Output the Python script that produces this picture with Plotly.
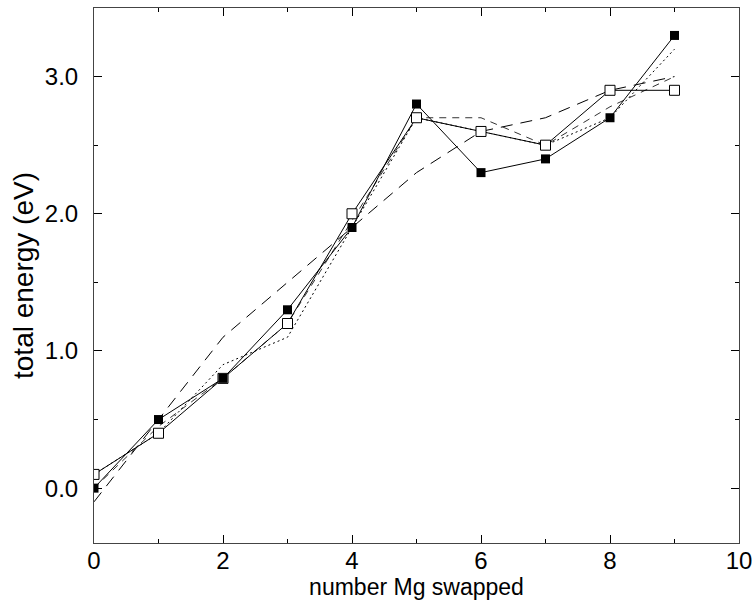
import plotly.graph_objects as go

x = [0, 1, 2, 3, 4, 5, 6, 7, 8, 9]
filled_sq = [0.0, 0.5, 0.8, 1.3, 1.9, 2.8, 2.3, 2.4, 2.7, 3.3]
open_sq = [0.1, 0.4, 0.8, 1.2, 2.0, 2.7, 2.6, 2.5, 2.9, 2.9]
long_dash = [-0.1, 0.5, 1.1, 1.5, 1.9, 2.3, 2.6, 2.7, 2.9, 3.0]
med_dash = [0.0, 0.45, 0.8, 1.2, 1.95, 2.7, 2.7, 2.5, 2.78, 3.0]
dotted = [0.1, 0.4, 0.9, 1.1, 1.9, 2.7, 2.6, 2.5, 2.7, 3.2]

FONT = "Liberation Sans, Arial, Helvetica"

fig = go.Figure()
fig.add_trace(go.Scatter(x=x, y=long_dash, mode="lines",
                         line=dict(color="black", width=1, dash="12px,8px")))
fig.add_trace(go.Scatter(x=x, y=med_dash, mode="lines",
                         line=dict(color="#333", width=1, dash="7px,6px")))
fig.add_trace(go.Scatter(x=x, y=dotted, mode="lines",
                         line=dict(color="black", width=1, dash="2px,3px")))
fig.add_trace(go.Scatter(x=x, y=open_sq, mode="lines+markers",
                         line=dict(color="black", width=1),
                         marker=dict(symbol="square", size=10, color="white",
                                     line=dict(color="black", width=1))))
fig.add_trace(go.Scatter(x=x, y=filled_sq, mode="lines+markers",
                         line=dict(color="black", width=1),
                         marker=dict(symbol="square", size=9, color="black",
                                     line=dict(color="black", width=0))))

axis_common = dict(showgrid=False, zeroline=False, showline=True, linecolor="#444",
                   linewidth=1, mirror="ticks", ticks="inside", ticklen=8,
                   tickcolor="black", tickwidth=1, automargin=False,
                   ticklabeloverflow="allow",
                   tickfont=dict(family=FONT, size=24, color="black"))

fig.update_xaxes(range=[0, 10], tick0=0, dtick=2,
                 minor=dict(dtick=1, ticks="inside", ticklen=4, tickcolor="black"),
                 title=dict(text="number Mg swapped",
                            font=dict(family=FONT, size=23, color="black"),
                            standoff=5),
                 ticklabelstandoff=-4, **axis_common)
fig.update_yaxes(range=[-0.4, 3.5], tick0=0, dtick=1, tickformat=".1f",
                 minor=dict(dtick=0.5, ticks="inside", ticklen=4, tickcolor="black"),
                 title=dict(text="total energy (eV)",
                            font=dict(family=FONT, size=28, color="black"),
                            standoff=3),
                 ticklabelstandoff=10, **axis_common)

fig.update_layout(width=753, height=609, showlegend=False,
                  plot_bgcolor="white", paper_bgcolor="white",
                  margin=dict(l=94, r=14, t=8, b=66))
fig.write_html("out.html", config={"displayModeBar": False},
               post_script="document.body.style.margin='0';")
